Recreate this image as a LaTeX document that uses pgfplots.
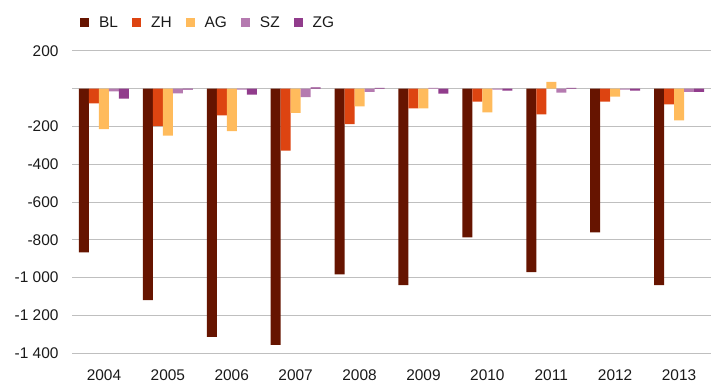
\documentclass[border=0pt]{standalone}
\usepackage{fontspec}
\setmainfont{Liberation Sans}
\usepackage{pgfplots}
\pgfplotsset{compat=1.18}
\definecolor{cBL}{HTML}{661400}
\definecolor{cZH}{HTML}{DD4411}
\definecolor{cAG}{HTML}{FFBB5C}
\definecolor{cSZ}{HTML}{B57AB0}
\definecolor{cZG}{HTML}{913C8C}
\definecolor{grid}{HTML}{CCD5DC}
\definecolor{txt}{HTML}{1A1A1A}
\begin{document}
\begin{tikzpicture}
\useasboundingbox (-72bp,-39bp) rectangle (649bp,353bp);
\begin{axis}[
  scale only axis,
  width=639bp, height=302bp,
  ybar=0pt, bar width=10bp,
  xmin=-0.5, xmax=9.5,
  ymin=-1400, ymax=200,
  enlargelimits=false,
  xtick={0,...,9},
  xticklabels={2004,2005,2006,2007,2008,2009,2010,2011,2012,2013},
  ytick={-1400,-1200,-1000,-800,-600,-400,-200,0,200},
  yticklabels={-1 400,-1 200,-1 000,-800,-600,-400,-200,,200},
  ymajorgrids, xmajorgrids=false, grid style={grid, line width=1pt},
  axis line style={draw=none},
  major tick length=0pt, tick style={draw=none},
  tick label style={font=\fontsize{15.5}{18}\selectfont, text=txt},
  yticklabel style={xshift=-10bp},
  xticklabel style={yshift=-13bp},
  legend style={draw=none, fill=none, at={(0.0125,1.093)}, anchor=west,
    legend columns=-1, inner xsep=0pt,
    font=\fontsize{15.5}{18}\selectfont, text=txt,
    nodes={inner xsep=0bp},
    /tikz/every odd column/.append style={column sep=10bp},
    /tikz/every even column/.append style={column sep=14bp}},
  legend image code/.code={\fill[#1, draw=none] (0bp,-4.5bp) rectangle (9bp,4.5bp);},
]
\addplot[fill=cBL, draw=none] coordinates {(0,-867) (1,-1120) (2,-1315) (3,-1357) (4,-984) (5,-1041) (6,-788) (7,-972) (8,-761) (9,-1041)};
\addplot[fill=cZH, draw=none] coordinates {(0,-78) (1,-198) (2,-141) (3,-328) (4,-188) (5,-104) (6,-68) (7,-136) (8,-68) (9,-83)};
\addplot[fill=cAG, draw=none] coordinates {(0,-214) (1,-249) (2,-224) (3,-128) (4,-94) (5,-104) (6,-125) (7,37) (8,-42) (9,-167)};
\addplot[fill=cSZ, draw=none] coordinates {(0,-14) (1,-24) (2,-4) (3,-44) (4,-16) (5,5) (6,-4) (7,-21) (8,-4) (9,-16)};
\addplot[fill=cZG, draw=none] coordinates {(0,-52) (1,-5) (2,-31) (3,7) (4,5) (5,-26) (6,-10) (7,5) (8,-10) (9,-16)};
\legend{BL,ZH,AG,SZ,ZG}
\end{axis}
\end{tikzpicture}
\end{document}
